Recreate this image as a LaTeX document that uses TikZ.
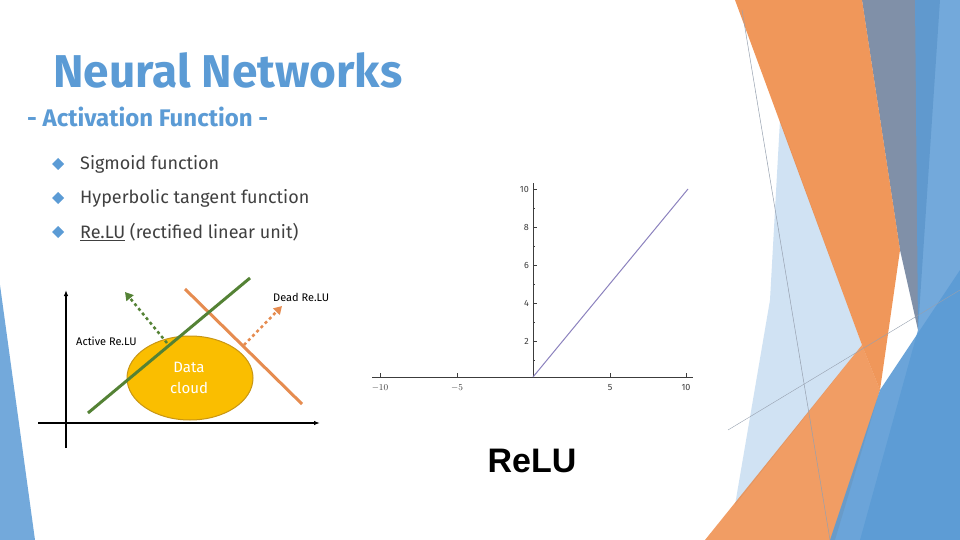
\documentclass[tikz,border=0pt]{standalone}
\usepackage{fontspec}
\setmainfont{Fira Sans}
\newfontfamily\relufont{Liberation Sans}
\usetikzlibrary{arrows.meta}
\begin{document}
\begin{tikzpicture}[x=1pt,y=-1pt]
\definecolor{fillColor}{RGB}{255,255,255}
\path[use as bounding box,fill=fillColor] (0,0) rectangle (960,540);
% background bands
\definecolor{bandBlue}{RGB}{91,155,213}
\definecolor{bandLight}{RGB}{189,215,238}
\definecolor{bandOrange}{RGB}{237,125,49}
\definecolor{bandGray}{RGB}{128,144,168}
\path[fill=bandLight,fill opacity=0.7] (780,120) -- (862,345) -- (735,505) -- (770,300) -- cycle;
\path[fill=bandGray] (862,0) -- (940,0) -- (918,330) -- (900,250) -- cycle;
\path[fill=bandBlue,fill opacity=0.85] (915,0) -- (960,0) -- (960,540) -- (860,540) -- (918,330) -- cycle;
\path[fill=bandOrange,fill opacity=0.8] (735,0) -- (862,0) -- (900,250) -- (880,390) -- (862,345) -- cycle;
\path[fill=bandOrange,fill opacity=0.75] (862,345) -- (880,390) -- (835,540) -- (705,540) -- cycle;
\path[fill=bandBlue,fill opacity=0.9] (880,390) -- (960,270) -- (960,540) -- (830,540) -- cycle;
\path[fill=bandBlue,fill opacity=0.85] (0,285) -- (35,540) -- (0,540) -- cycle;
\definecolor{drawColor}{RGB}{150,160,175}
\path[draw=drawColor,line width=0.5pt] (742,10) -- (830,540);
\path[draw=drawColor,line width=0.4pt] (728,430) -- (960,290);
% title
\definecolor{titleColor}{RGB}{91,155,213}
\node[text=titleColor,anchor=base west,inner sep=0pt,font=\bfseries\fontsize{46}{50}\selectfont] (title) at (53,88) {Neural Networks};
\node[text=titleColor,anchor=base west,inner sep=0pt,font=\bfseries\fontsize{24}{28}\selectfont] (subtitle) at (27,127) {- Activation Function -};
% bullets
\definecolor{textColor}{RGB}{64,64,64}
\foreach \yy/\txt [count=\i] in {164/Sigmoid function,198/Hyperbolic tangent function,232/{\underline{Re.LU} (rectified linear unit)}}{
  \path[fill=titleColor] (58,\yy-6) -- (64,\yy) -- (58,\yy+6) -- (52,\yy) -- cycle;
  \node[text=textColor,anchor=west,inner sep=0pt,font=\fontsize{18}{22}\selectfont] (bullet\i) at (80,\yy) {\txt};
}
% left sketch
\definecolor{greenLine}{RGB}{84,130,53}
\definecolor{orangeLine}{RGB}{230,140,80}
\definecolor{cloudColor}{RGB}{250,190,0}
\definecolor{cloudEdge}{RGB}{200,150,20}
\path[draw=black,line width=2pt,-{Latex[length=6pt]}] (66,448) -- (66,290);
\path[draw=black,line width=2pt,-{Latex[length=6pt]}] (38,423) -- (320,423);
\path[fill=cloudColor,draw=cloudEdge,line width=1pt] (190,378) ellipse (63 and 42);
\node[text=white,align=center,inner sep=0pt,font=\fontsize{15}{21}\selectfont] (cloud) at (189,378) {Data\\cloud};
\path[draw=orangeLine,line width=3pt] (185,289) -- (302,404);
\path[draw=greenLine,line width=3pt] (88,413) -- (250,278);
\path[draw=greenLine,line width=2.5pt,dashed,-{Triangle[length=8pt,width=9pt]}] (167,343) -- (125,292);
\path[draw=orangeLine,line width=2.5pt,dashed,-{Triangle[length=8pt,width=9pt]}] (244,345) -- (282,306);
\node[text=black,anchor=west,inner sep=0pt,font=\fontsize{11}{13}\selectfont] (dead) at (273,297) {Dead Re.LU};
\node[text=black,anchor=west,inner sep=0pt,font=\fontsize{11}{13}\selectfont] (active) at (76,341) {Active Re.LU};
% plot
\definecolor{axisColor}{RGB}{60,60,60}
\definecolor{plotColor}{RGB}{140,130,190}
\path[draw=axisColor,line width=0.6pt] (372,377) -- (693,377);
\path[draw=axisColor,line width=0.6pt] (533,183) -- (533,377);
\foreach \xx/\lab in {380/$-10$,457/$-5$,610/5,686/10}{
  \path[draw=axisColor,line width=0.5pt] (\xx,377) -- (\xx,373);
  \node[text=axisColor,anchor=north,inner sep=0pt,font=\fontsize{9}{10}\selectfont] at (\xx,384) {\lab};
}
\foreach \yy/\lab in {341/2,303/4,265/6,227/8,189/10}{
  \path[draw=axisColor,line width=0.5pt] (533,\yy) -- (537,\yy);
  \node[text=axisColor,anchor=east,inner sep=0pt,font=\fontsize{9}{10}\selectfont] at (529,\yy) {\lab};
}
\foreach \yy in {208,246,284,322,360}{
  \path[draw=axisColor,line width=0.3pt] (533,\yy) -- (535,\yy);
}
\path[draw=plotColor,line width=1pt] (533,377) -- (688,189);
\node[text=black,anchor=base,inner sep=0pt,font=\relufont\bfseries\fontsize{34}{38}\selectfont] (relu) at (532,472) {ReLU};
\end{tikzpicture}
\end{document}
